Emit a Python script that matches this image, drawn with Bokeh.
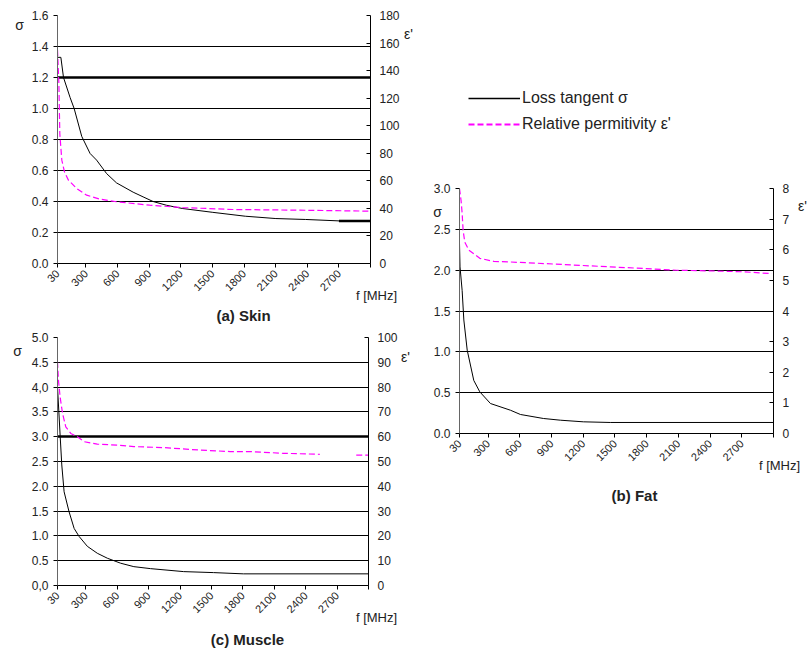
import numpy as np
from bokeh.plotting import figure
from bokeh.models import (Range1d, LinearAxis, FixedTicker, Label, Legend,
                          LegendItem, Grid)
from bokeh.layouts import row, column
from bokeh.embed import file_html
from bokeh.resources import INLINE

FONT = "Liberation Sans"

# ---------------- data ----------------
x_ticks = [30, 300, 600, 900, 1200, 1500, 1800, 2100, 2400, 2700, 3000]
x_tick_labels = ["30", "300", "600", "900", "1200", "1500", "1800", "2100", "2400", "2700", ""]

# (a) Skin
skin_sig_f = [30, 62, 87, 150, 188, 260, 339, 401, 496, 590, 748, 842, 937, 1063, 1214, 1504, 1812, 2102, 2385, 2700, 3000]
skin_sig = [1.33, 1.33, 1.20, 1.07, 1.00, 0.82, 0.71, 0.667, 0.58, 0.52, 0.46, 0.43, 0.40, 0.376, 0.355, 0.33, 0.305, 0.29, 0.284, 0.275, 0.275]
skin_eps_f = [30, 43, 52, 71, 96, 134, 213, 307, 433, 590, 905, 1220, 1692, 2322, 2983]
skin_eps = [155, 131, 94, 75, 66.5, 60.5, 54.4, 49.6, 46.7, 44.8, 42.3, 40.6, 39.2, 38.7, 38.0]
skin_sig_ticks = [0.0, 0.2, 0.4, 0.6, 0.8, 1.0, 1.2, 1.4, 1.6]
skin_sig_labels = ["0.0", "0.2", "0.4", "0.6", "0.8", "1.0", "1.2", "1.4", "1.6"]
skin_eps_ticks = [0, 20, 40, 60, 80, 100, 120, 140, 160, 180]

# (b) Fat
fat_sig_f = [30, 35, 55, 71, 103, 165, 222, 323, 512, 606, 823, 984, 1201, 1456, 3000]
fat_sig = [2.33, 2.04, 1.75, 1.39, 1.02, 0.65, 0.51, 0.367, 0.285, 0.233, 0.184, 0.163, 0.143, 0.135, 0.135]
fat_eps_f = [30, 45, 55, 64, 80, 118, 222, 354, 512, 826, 1456, 1770, 2085, 2400, 2715, 2983]
fat_eps = [8.0, 7.6, 7.19, 6.64, 6.25, 5.99, 5.72, 5.62, 5.6, 5.55, 5.44, 5.39, 5.33, 5.31, 5.28, 5.22]
fat_sig_ticks = [0.0, 0.5, 1.0, 1.5, 2.0, 2.5, 3.0]
fat_sig_labels = ["0.0", "0.5", "1.0", "1.5", "2.0", "2.5", "3.0"]
fat_eps_ticks = [0, 1, 2, 3, 4, 5, 6, 7, 8]

# (c) Muscle
mus_sig_f = [30, 55, 71, 93, 140, 189, 236, 315, 410, 506, 632, 759, 918, 1235, 1520, 1805, 3000]
mus_sig = [4.0, 3.03, 2.43, 1.89, 1.49, 1.15, 0.99, 0.79, 0.65, 0.55, 0.45, 0.38, 0.34, 0.28, 0.26, 0.235, 0.235]
mus_eps_f = [30, 39, 55, 78, 109, 157, 220, 283, 410, 601, 759, 1044, 1393, 1678, 1869, 2186, 2535, 2700, 2883, 2995]
mus_eps = [90.2, 82.8, 76.0, 69.4, 64.0, 61.3, 60.0, 58.0, 57.0, 56.6, 56.0, 55.6, 54.6, 54.0, 54.0, 53.3, 52.9, float("nan"), 52.6, 52.6]
mus_sig_ticks = [0.0, 0.5, 1.0, 1.5, 2.0, 2.5, 3.0, 3.5, 4.0, 4.5, 5.0]
mus_sig_labels = ["0,0", "0.5", "1.0", "1.5", "2.0", "2.5", "3.0", "3.5", "4,0", "4.5", "5.0"]
mus_eps_ticks = [0, 10, 20, 30, 40, 50, 60, 70, 80, 90, 100]

legend_labels = ["Loss tangent σ", "Relative permitivity ε'"]

TXT = "#222222"
MAGENTA = "#ff00ff"


def panel(fw, fh, bl, br, bt, bb, sig_max, sig_ticks, sig_labels,
          eps_max, eps_ticks, thick, sf, sv, ef, ev):
    p = figure(frame_width=fw, frame_height=fh, x_range=Range1d(30, 3000),
               y_range=Range1d(0, sig_max), output_backend="svg",
               toolbar_location=None, min_border_left=bl, min_border_right=br,
               min_border_top=bt, min_border_bottom=bb)
    p.extra_y_ranges = {"eps": Range1d(0, eps_max)}
    p.background_fill_color = "white"
    p.border_fill_color = "white"
    p.outline_line_color = None
    p.xgrid.visible = False
    p.ygrid.ticker = FixedTicker(ticks=sig_ticks)
    p.ygrid.grid_line_color = "black"
    p.ygrid.grid_line_width = 1
    if thick is not None:
        p.add_layout(Grid(dimension=1, ticker=FixedTicker(ticks=[thick]),
                          grid_line_color="black", grid_line_width=2.5))

    xa = p.xaxis[0]
    xa.ticker = FixedTicker(ticks=x_ticks)
    xa.major_label_overrides = {t: l for t, l in zip(x_ticks, x_tick_labels)}
    xa.major_label_orientation = np.pi / 4
    xa.major_tick_out = 4
    xa.major_tick_in = 0
    xa.minor_tick_line_color = None
    xa.axis_line_color = "black"
    xa.major_tick_line_color = "black"
    xa.major_label_text_font = FONT
    xa.major_label_text_font_size = "11px"
    xa.major_label_text_color = TXT
    xa.major_label_standoff = 4

    ya = p.yaxis[0]
    ya.ticker = FixedTicker(ticks=sig_ticks)
    ya.major_label_overrides = {t: l for t, l in zip(sig_ticks, sig_labels)}
    ya.major_tick_out = 4
    ya.major_tick_in = 0
    ya.minor_tick_line_color = None
    ya.axis_line_color = "#666666"
    ya.major_tick_line_color = "black"
    ya.major_label_text_font = FONT
    ya.major_label_text_font_size = "12px"
    ya.major_label_text_color = TXT
    ya.major_label_standoff = 5

    ra = LinearAxis(y_range_name="eps", ticker=FixedTicker(ticks=eps_ticks))
    ra.major_tick_out = 0
    ra.major_tick_in = 4
    ra.minor_tick_line_color = None
    ra.axis_line_color = "black"
    ra.major_tick_line_color = "black"
    ra.major_label_text_font = FONT
    ra.major_label_text_font_size = "12px"
    ra.major_label_text_color = TXT
    ra.major_label_standoff = 9
    p.add_layout(ra, "right")

    r1 = p.line(sf, sv, line_color="black", line_width=1)
    r2 = p.line(ef, ev, line_color=MAGENTA, line_width=1.2, line_dash="6 3",
                y_range_name="eps")
    return p, r1, r2


def lab(p, side, x, y, text, size="13px", bold=False):
    p.add_layout(Label(x=x, y=y, x_units="screen", y_units="screen", text=text,
                       text_font=FONT, text_font_size=size, text_color=TXT,
                       text_align="center", text_baseline="middle",
                       text_font_style="bold" if bold else "normal"), side)


# Skin: frame x 57..370, y 15..263 (figure 0..414 / 0..329)
skin, _, _ = panel(313, 248, 57, 44, 15, 60, 1.6, skin_sig_ticks, skin_sig_labels,
                   180, skin_eps_ticks, 1.2, skin_sig_f, skin_sig, skin_eps_f, skin_eps)
# the last skin segment is drawn heavier in the original
skin.line(skin_sig_f[-2:], skin_sig[-2:], line_color="black", line_width=2.5)
lab(skin, "left", 0, 239, "σ", "14px")
lab(skin, "right", 6, 230, "ε'", "14px")
lab(skin, "below", 319, 17, "f [MHz]", "13px")
lab(skin, "below", 186, 14, "(a) Skin", "15px", True)

# Muscle: frame x 57..368, y 337..585 (figure 0..414 / 329..651)
muscle, _, _ = panel(311, 248, 57, 46, 8, 60, 5.0, mus_sig_ticks, mus_sig_labels,
                     100, mus_eps_ticks, 3.0, mus_sig_f, mus_sig, mus_eps_f, mus_eps)
lab(muscle, "left", -2, 235, "σ", "14px")
lab(muscle, "right", 5, 229, "ε'", "14px")
lab(muscle, "below", 319, 17, "f [MHz]", "13px")
lab(muscle, "below", 190, 12, "(c) Muscle", "15px", True)

# Legend strip above the Fat chart (its frame is aligned with the Fat frame)
leg = figure(width=396, height=150, x_range=Range1d(0, 1), y_range=Range1d(0, 1),
             output_backend="svg", toolbar_location=None,
             x_axis_location=None, y_axis_location=None,
             min_border_left=0, min_border_right=0, min_border_top=0, min_border_bottom=0)
leg.outline_line_color = None
leg.xgrid.visible = False
leg.ygrid.visible = False
leg.background_fill_color = "white"
leg.border_fill_color = "white"
# the Fat series (they lie outside this strip's 0..1 ranges, so only the legend samples show)
lr1 = leg.line(fat_sig_f, fat_sig, line_color="black", line_width=1.3)
lr2 = leg.line(fat_eps_f, fat_eps, line_color=MAGENTA, line_width=2, line_dash="6 3")
legend = Legend(items=[LegendItem(label=legend_labels[0], renderers=[lr1]),
                       LegendItem(label=legend_labels[1], renderers=[lr2])],
                location=(9, 16), margin=0, padding=0, border_line_color=None,
                background_fill_alpha=0, glyph_width=52, glyph_height=20,
                label_height=20, spacing=6, label_standoff=2,
                label_text_font=FONT, label_text_font_size="16px",
                label_text_color=TXT)
leg.add_layout(legend, "center")

# Fat: frame x 459..773, y 188..433 (figure 414..810 / 150..643)
fat, fr1, fr2 = panel(314, 245, 45, 37, 38, 210, 3.0, fat_sig_ticks, fat_sig_labels,
                      8, fat_eps_ticks, None, fat_sig_f, fat_sig, fat_eps_f, fat_eps)
lab(fat, "left", 16, 222, "σ", "14px")
lab(fat, "right", 10, 228, "ε'", "14px")
lab(fat, "below", 320, 17, "f [MHz]", "13px")
lab(fat, "below", 175, 4, "(b) Fat", "15px", True)

layout = row(column(skin, muscle), column(leg, fat))
open("out.html", "w").write(file_html(layout, INLINE))
